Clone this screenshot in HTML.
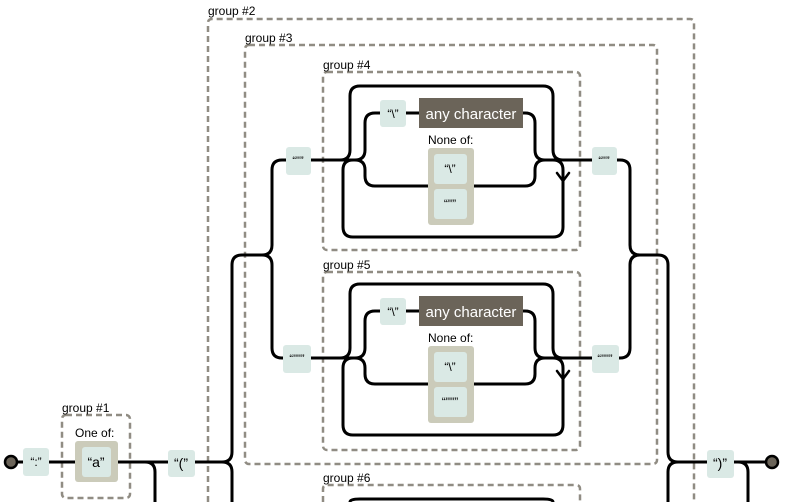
<!DOCTYPE html>
<html><head><meta charset="utf-8"><style>
html,body{margin:0;padding:0;background:#fff;width:799px;height:502px;overflow:hidden}
svg{display:block}
svg text{font-family:"Liberation Sans",Arial,sans-serif}
.p{fill:none;stroke:#000;stroke-width:3;stroke-linecap:round;stroke-linejoin:round}
.g{fill:none;stroke:#908c83;stroke-width:2.5;stroke-dasharray:6,4}
.lit{fill:#dae9e5}
.lbl{font-size:12px;fill:#000}
.ch{font-size:14px;fill:#000;text-anchor:middle}
</style></head><body>
<svg width="799" height="502" viewBox="0 0 799 502" xmlns="http://www.w3.org/2000/svg">
<!-- groups -->
<rect class="g" x="62" y="415" width="68" height="83" rx="4"/>
<text class="lbl" x="62" y="412">group #1</text>
<path class="g" d="M208 502 V23 q0 -4 4 -4 H690 q4 0 4 4 V502"/>
<text class="lbl" x="208" y="15">group #2</text>
<rect class="g" x="245" y="45" width="412" height="419" rx="4"/>
<text class="lbl" x="245" y="42">group #3</text>
<rect class="g" x="323" y="72" width="257" height="178" rx="4"/>
<text class="lbl" x="323" y="69">group #4</text>
<rect class="g" x="323" y="272" width="257" height="178" rx="4"/>
<text class="lbl" x="323" y="269">group #5</text>
<path class="g" d="M323 502 V489 q0 -4 4 -4 H576 q4 0 4 4 V502"/>
<text class="lbl" x="323" y="482">group #6</text>

<!-- main line -->
<path class="p" d="M11 462 H130"/>
<path class="p" d="M145 462 q10 0 10 10 V502"/>
<path class="p" d="M130 462 H222 q10 0 10 -10 V265 q0 -10 10 -10 H262 q10 0 10 -10 V170 q0 -10 10 -10 H345"/>
<path class="p" d="M222 462 q10 0 10 10 V502"/>
<path class="p" d="M262 255 q10 0 10 10 V348 q0 10 10 10 H345"/>
<path class="p" d="M580 160 H620 q10 0 10 10 V245 q0 10 10 10 H658 q10 0 10 10 V452 q0 10 10 10 H738"/>
<path class="p" d="M580 358 H620 q10 0 10 -10 V265 q0 -10 10 -10"/>
<path class="p" d="M668 502 V472 q0 -10 10 -10"/>
<path class="p" d="M694 462 H772"/>
<path class="p" d="M738 462 q10 0 10 10 V502"/>

<!-- group 4 / 5 internals -->
<g id="gr">
<path class="p" d="M323 160 H340 q10 0 10 -10 V96 q0 -10 10 -10 H543 q10 0 10 10 V150 q0 10 10 10 H580"/>
<path class="p" d="M553 160 q10 0 10 10 V227 q0 10 -10 10 H353 q-10 0 -10 -10 V170 q0 -10 10 -10"/>
<path class="p" d="M557 173 L563 181 L569 173" style="stroke-width:2.5"/>
<path class="p" d="M345 160 H355 q10 0 10 -10 V123 q0 -10 10 -10 H525 q10 0 10 10 V150 q0 10 10 10 H555"/>
<path class="p" d="M355 160 q10 0 10 10 V176 q0 10 10 10 H525 q10 0 10 -10 V170 q0 -10 10 -10"/>
<rect class="lit" x="380" y="100" width="26" height="27" rx="3"/>
<text class="ch" x="393" y="118" style="font-size:12px">“\”</text>
<rect x="419" y="98" width="104" height="30" fill="#6b6459"/>
<text x="471" y="119" style="font-size:15px;fill:#fff;text-anchor:middle">any character</text>
<text class="lbl" x="428" y="144">None of:</text>
<rect x="428" y="148" width="46" height="77" rx="3" fill="#cbcbba"/>
<rect class="lit" x="434" y="154" width="33" height="30" rx="3"/>
<text class="ch" x="450" y="173" style="font-size:12px">“\”</text>
<rect class="lit" x="434" y="189" width="33" height="30" rx="3"/>
</g>
<text class="ch" x="450" y="208" style="font-size:12px">“"”</text>
<use href="#gr" transform="translate(0,198)"/>
<text class="ch" x="450" y="406" style="font-size:12px">“""”</text>

<!-- group6 loop top -->
<path class="p" d="M350 502 q0 -3 10 -3 H543 q10 0 10 3"/>

<!-- boxes -->
<rect class="lit" x="23" y="448" width="26" height="28" rx="3"/>
<text class="ch" x="36" y="466" style="font-size:12px">“:”</text>
<text class="lbl" x="75" y="437">One of:</text>
<rect x="75" y="441" width="43" height="41" rx="3" fill="#cbcbba"/>
<rect class="lit" x="82" y="447" width="29" height="30" rx="3"/>
<text class="ch" x="96" y="467">“a”</text>
<rect class="lit" x="168" y="450" width="27" height="27" rx="3"/>
<text class="ch" x="181" y="468">“(”</text>
<rect class="lit" x="286" y="147" width="25" height="28" rx="3"/>
<text class="ch" x="298" y="164" style="font-size:11px">“"”</text>
<rect class="lit" x="283" y="345" width="28" height="28" rx="3"/>
<text class="ch" x="297" y="362" style="font-size:11px">“""”</text>
<rect class="lit" x="592" y="147" width="25" height="28" rx="3"/>
<text class="ch" x="604" y="164" style="font-size:11px">“"”</text>
<rect class="lit" x="592" y="345" width="27" height="28" rx="3"/>
<text class="ch" x="605" y="362" style="font-size:11px">“""”</text>
<rect class="lit" x="707" y="450" width="27" height="28" rx="3"/>
<text class="ch" x="720" y="468">“)”</text>

<circle cx="11" cy="462" r="6" fill="#6b6459" stroke="#000" stroke-width="2.5"/>
<circle cx="772" cy="462" r="6" fill="#6b6459" stroke="#000" stroke-width="2.5"/>
</svg>
</body></html>
